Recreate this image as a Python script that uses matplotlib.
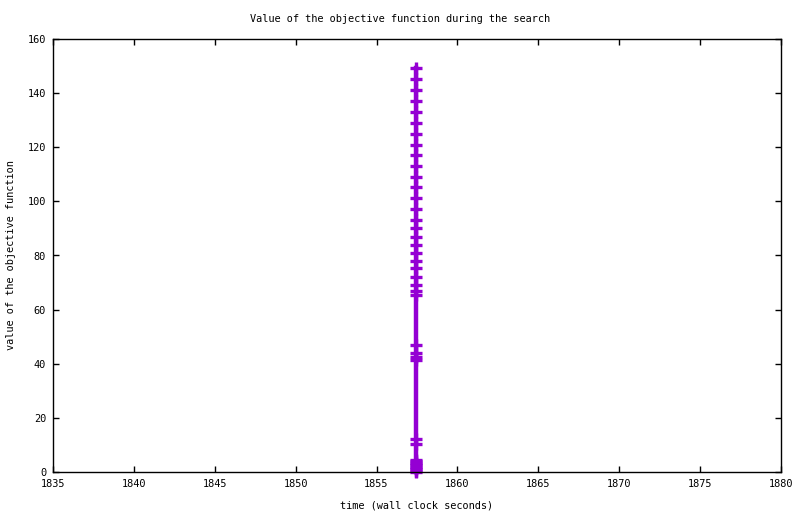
import matplotlib
matplotlib.use("Agg")
import matplotlib.pyplot as plt

# Data
times = [1857.45] * 41
values = [0.0, 0.5, 1.0, 1.5, 2.0, 2.5, 3.0, 3.5, 4.0, 4.5,
          10.5, 12.3, 41.5, 42.5, 44.1, 47.0,
          65.3, 67.0, 69.2, 72.2, 75.2, 78.1, 81.0, 84.0, 86.9, 90.3,
          93.1, 97.2, 101.1, 105.2, 109.1, 113.2, 117.3, 121.0, 125.0, 129.1,
          133.0, 137.1, 141.1, 145.1, 149.2]

xticks = [1835, 1840, 1845, 1850, 1855, 1860, 1865, 1870, 1875, 1880]
yticks = [0, 20, 40, 60, 80, 100, 120, 140, 160]

plt.rcParams['font.family'] = ['DejaVu Sans Mono']
fs = 7.4

fig = plt.figure(figsize=(8, 5.14), dpi=100)
ax = fig.add_axes([53/800, 42/514, 728/800, 433/514])
ax.plot(times, values, color='#9400d3', linewidth=3.2, marker='+',
        markersize=8, markeredgewidth=2.4, clip_on=False)
ax.set_xlim(1835, 1880)
ax.set_ylim(0, 160)
ax.set_xticks(xticks)
ax.set_yticks(yticks)
ax.tick_params(direction='in', length=4.5, width=1, top=True, right=True,
               labelsize=fs, pad=5)
for s in ax.spines.values():
    s.set_linewidth(1)
fig.text(0.5, 1 - 19/514, 'Value of the objective function during the search',
         ha='center', va='center', fontsize=fs)
fig.text((53+781)/2/800, 1 - 505/514, 'time (wall clock seconds)',
         ha='center', va='center', fontsize=fs)
fig.text(11/800, 1 - 255/514, 'value of the objective function',
         ha='center', va='center', rotation=90, fontsize=fs)
fig.savefig('out.png', dpi=100)
